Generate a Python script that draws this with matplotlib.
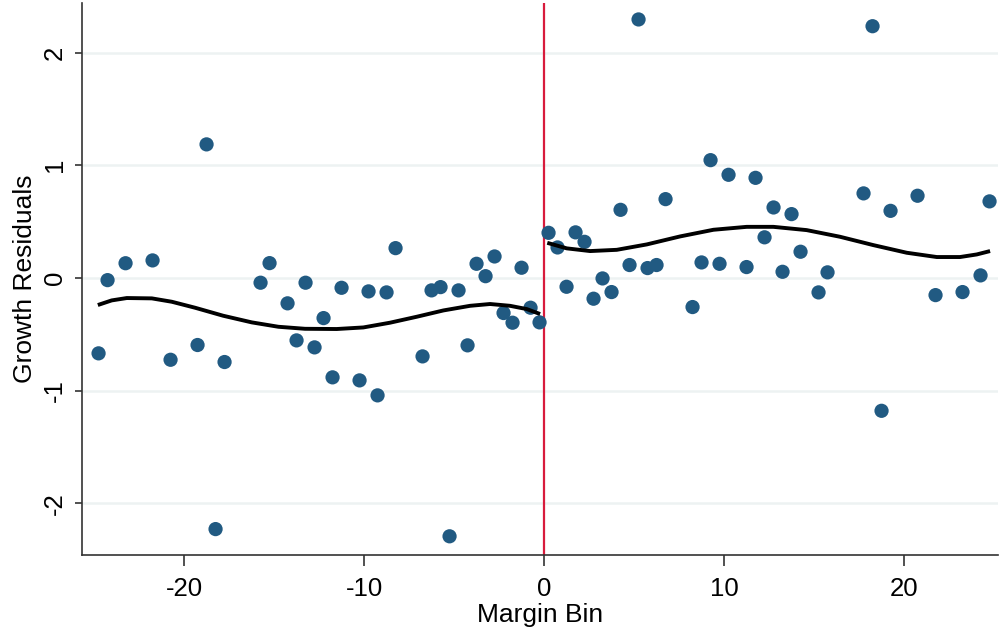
import numpy as np
import matplotlib.pyplot as plt

# binned means of growth residuals, left and right of the cutoff
bins_left = [-24.75, -24.25, -23.25, -21.75, -20.75, -19.25, -18.75, -18.25, -17.75,
             -15.75, -15.25, -14.25, -13.75, -13.25, -12.75, -12.25, -11.75, -11.25,
             -10.25, -9.75, -9.25, -8.75, -8.25, -6.75, -6.25, -5.75, -5.25, -4.75,
             -4.25, -3.75, -3.25, -2.75, -2.25, -1.75, -1.25, -0.75, -0.25]
resid_left = [-0.67, -0.02, 0.13, 0.155, -0.727, -0.596, 1.185, -2.23, -0.747,
              -0.043, 0.131, -0.226, -0.555, -0.043, -0.617, -0.357, -0.883, -0.088,
              -0.91, -0.12, -1.043, -0.129, 0.264, -0.697, -0.111, -0.082, -2.294, -0.111,
              -0.599, 0.125, 0.015, 0.19, -0.312, -0.398, 0.09, -0.265, -0.395]

bins_right = [0.25, 0.75, 1.25, 1.75, 2.25, 2.75, 3.25, 3.75, 4.25, 4.75, 5.25, 5.75,
              6.25, 6.75, 8.25, 8.75, 9.25, 9.75, 10.25, 11.25, 11.75, 12.25, 12.75,
              13.25, 13.75, 14.25, 15.25, 15.75, 17.75, 18.25, 18.75, 19.25, 20.75,
              21.75, 23.25, 24.25, 24.75]
resid_right = [0.40, 0.27, -0.079, 0.404, 0.32, -0.185, -0.005, -0.126, 0.604, 0.114,
               2.294, 0.087, 0.114, 0.699, -0.259, 0.137, 1.045, 0.125, 0.915, 0.096,
               0.888, 0.36, 0.625, 0.054, 0.566, 0.232, -0.129, 0.049, 0.75, 2.234,
               -1.18, 0.595, 0.729, -0.153, -0.126, 0.022, 0.679]

# polynomial fit on each side
fit_x_left = [-24.79, -24.02, -23.18, -21.79, -20.68, -19.39, -17.83, -16.24, -14.76,
              -13.28, -11.52, -10.04, -8.56, -7.07, -5.59, -4.11, -3.0, -1.89, -0.96, -0.22]
fit_y_left = [-0.241, -0.200, -0.179, -0.182, -0.212, -0.265, -0.336, -0.395, -0.434,
              -0.452, -0.454, -0.440, -0.398, -0.345, -0.289, -0.248, -0.232, -0.248,
              -0.277, -0.321]
fit_x_right = [0.18, 1.26, 2.56, 4.04, 5.71, 7.56, 9.41, 11.26, 12.74, 14.59, 16.44,
               18.29, 20.15, 21.82, 23.11, 24.04, 24.78]
fit_y_right = [0.311, 0.262, 0.238, 0.249, 0.297, 0.368, 0.427, 0.453, 0.453, 0.424,
               0.365, 0.291, 0.223, 0.185, 0.185, 0.208, 0.238]

plt.rcParams['font.family'] = ['Liberation Sans', 'DejaVu Sans']
plt.rcParams['axes.unicode_minus'] = False

fig = plt.figure(figsize=(9.99, 6.32), dpi=100)
ax = fig.add_axes([82 / 999, 77 / 632, 916 / 999, 552 / 632])

dot = '#215a82'
ax.scatter(bins_left, resid_left, s=105, color=dot, edgecolors='none', zorder=3)
ax.scatter(bins_right, resid_right, s=105, color=dot, edgecolors='none', zorder=3)
ax.plot(fit_x_left, fit_y_left, color='black', lw=2.8, zorder=4,
        solid_capstyle='butt', solid_joinstyle='round')
ax.plot(fit_x_right, fit_y_right, color='black', lw=2.8, zorder=4,
        solid_capstyle='butt', solid_joinstyle='round')
ax.axvline(0, color='#d81b3c', lw=1.6, zorder=2)

ax.set_xlim(-25.67, 25.22)
ax.set_ylim(-2.46, 2.44)
ax.set_xticks([-20, -10, 0, 10, 20])
ax.set_yticks([-2, -1, 0, 1, 2])
ax.grid(axis='y', color='#edf2f2', lw=1.8, zorder=0)
ax.set_axisbelow(True)

for side in ['top', 'right']:
    ax.spines[side].set_visible(False)
for side in ['left', 'bottom']:
    ax.spines[side].set_color('#333333')
    ax.spines[side].set_linewidth(1.2)

ax.tick_params(axis='x', length=8, width=1.2, color='#333333', labelsize=18.5, pad=8)
ax.tick_params(axis='y', length=5, width=1.2, color='#333333', labelsize=18.5, pad=6)
for lab in ax.get_yticklabels():
    lab.set_rotation(90)
    lab.set_va('center')

ax.set_xlabel('Margin Bin', fontsize=19, labelpad=1)
ax.set_ylabel('Growth Residuals', fontsize=19, labelpad=4)

fig.savefig('out.png', dpi=100)
